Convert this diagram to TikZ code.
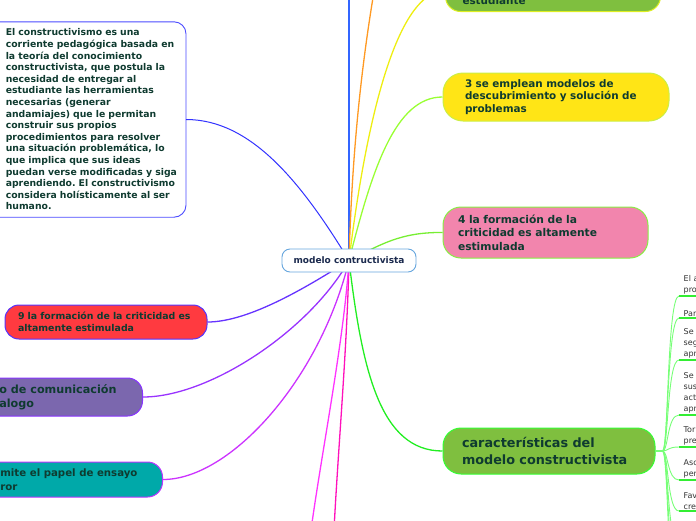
\documentclass[tikz,border=0pt]{standalone}
\usepackage{fontspec}
\setmainfont{DejaVu Sans}
\usepackage{tikz}
\usetikzlibrary{positioning, backgrounds}
\frenchspacing

\definecolor{bluetop}{HTML}{3366FF}
\definecolor{orng}{HTML}{FF9922}
\definecolor{ylw}{HTML}{EEEE11}
\definecolor{lime}{HTML}{99FF33}
\definecolor{grnA}{HTML}{77EE33}
\definecolor{grnB}{HTML}{22EE22}
\definecolor{blueB}{HTML}{3333FF}
\definecolor{violA}{HTML}{6633FF}
\definecolor{violB}{HTML}{9933FF}
\definecolor{violC}{HTML}{CC33FF}
\definecolor{mgnt}{HTML}{FF33FF}
\definecolor{pnk}{HTML}{FF11BB}
\definecolor{leafgrn}{HTML}{7FBF3F}
\definecolor{ntwobd}{HTML}{DDEE22}
\definecolor{nthreefill}{HTML}{FFE516}
\definecolor{nthreebd}{HTML}{CCEE44}
\definecolor{nfourfill}{HTML}{F285AD}
\definecolor{nfourbd}{HTML}{88EE44}
\definecolor{ncarbd}{HTML}{33FF33}
\definecolor{nninefill}{HTML}{FF3A40}
\definecolor{nninebd}{HTML}{5533FF}
\definecolor{npurfill}{HTML}{7B67AE}
\definecolor{npurbd}{HTML}{8833FF}
\definecolor{ntealfill}{HTML}{00A9A9}
\definecolor{ntealbd}{HTML}{BB33FF}
\definecolor{tbbd}{HTML}{4B4BFF}
\definecolor{rootbd}{HTML}{66A6DE}
\definecolor{roottxt}{HTML}{1B2A4E}
\definecolor{txtdark}{HTML}{0F3B30}
\definecolor{subtxt}{HTML}{333333}
\definecolor{treegrn}{HTML}{77FF77}
\definecolor{ulgrn}{HTML}{33EE33}

\begin{document}
\begin{tikzpicture}[x=1pt, y=-1pt,
  topic/.style={draw, line width=1pt, align=left, text=txtdark},
  branch/.style={line width=1.3pt},
  tree/.style={treegrn, line width=0.9pt},
  sub/.style={anchor=south west, align=left, inner xsep=4.5pt, inner ysep=1.5pt, text width=30pt, font=\fontsize{8}{11}\selectfont, text=subtxt},
  underl/.style={ulgrn, line width=1.6pt}]

\useasboundingbox (0,0) rectangle (696,520);

% central topic
\node[draw=rootbd, fill=white, line width=0.9pt, rounded corners=8pt, minimum width=134pt, minimum height=23pt, text=roottxt, font=\bfseries\fontsize{9}{11}\selectfont] (root) at (349,260.5) {modelo contructivista};

% right side topics
\node[topic, fill=leafgrn, draw=ntwobd, rounded corners=15pt, anchor=south west, text width=181pt, inner xsep=17pt, inner ysep=4.5pt, text height=30pt, text depth=2.5pt, font=\bfseries\fontsize{10.4}{12.5}\selectfont] (n2) at (445,12) {estudiante};
\node[topic, fill=nthreefill, draw=nthreebd, rounded corners=20pt, text width=182pt, inner xsep=22pt, minimum height=48pt, font=\bfseries\fontsize{10.4}{12.5}\selectfont] (n3) at (556,97) {3 se emplean modelos de\\descubrimiento y solución de\\problemas};
\node[topic, fill=nfourfill, draw=nfourbd, rounded corners=18pt, text width=175pt, inner xsep=15pt, minimum height=51pt, font=\bfseries\fontsize{10.7}{13.5}\selectfont] (n4) at (545.5,232.5) {4 la formación de la\\criticidad es altamente\\estimulada};
\node[topic, fill=leafgrn, draw=ncarbd, rounded corners=18pt, text width=174pt, inner xsep=19pt, minimum height=46pt, font=\bfseries\fontsize{12.8}{17}\selectfont] (ncar) at (549,451) {características del\\modelo constructivista};

% left side topics
\node[topic, fill=nninefill, draw=nninebd, rounded corners=14pt, text width=176pt, inner xsep=13pt, minimum height=34pt, font=\bfseries\fontsize{9.4}{12}\selectfont] (n9) at (106,322) {9 la formación de la criticidad es\\altamente estimulada};
\node[topic, fill=npurfill, draw=npurbd, rounded corners=15pt, anchor=east, inner xsep=26pt, minimum height=38pt, font=\bfseries\fontsize{11.2}{14}\selectfont] (npur) at (143,397) {o de comunicación\\alogo};
\node[topic, fill=ntealfill, draw=ntealbd, rounded corners=15pt, anchor=east, inner xsep=25pt, minimum height=35pt, font=\bfseries\fontsize{10.2}{14}\selectfont] (nteal) at (163,479.5) {mite el papel de ensayo\\ror};

% text box
\node[anchor=east, align=left, text width=172pt, inner xsep=8pt, minimum height=195pt, text=txtdark, font=\bfseries\fontsize{9.3}{11.6}\selectfont] (tb) at (186,119.5) {El constructivismo es una\\corriente pedagógica basada en\\la teoría del conocimiento\\constructivista, que postula la\\necesidad de entregar al\\estudiante las herramientas\\necesarias (generar\\andamiajes) que le permitan\\construir sus propios\\procedimientos para resolver\\una situación problemática, lo\\que implica que sus ideas\\puedan verse modificadas y siga\\aprendiendo. El constructivismo\\considera holísticamente al ser\\humano.};

% sub topics of caracteristicas
\node[sub] (s1) at (679,296) {El a\\pro};
\node[sub] (s2) at (679,318) {Par};
\node[sub] (s3) at (679,360) {Se\\seg\\apr};
\node[sub] (s4) at (679,415) {Se\\sus\\act\\apr};
\node[sub] (s5) at (679,447) {Tor\\pre};
\node[sub] (s6) at (679,480) {Asc\\per};
\node[sub] (s7) at (679,511) {Fav\\cre};

\coordinate (upA) at (349,-20);
\coordinate (upB) at (376,-20);
\coordinate (downA) at (311,530);
\coordinate (downB) at (334,530);
\coordinate (s8) at (679,545);
\coordinate (s9) at (679,575);
\coordinate (s10) at (679,605);

\begin{scope}[on background layer]
  \draw[tbbd, fill=white, line width=0.9pt, rounded corners=12pt] ([xshift=-40pt]tb.north west) rectangle (tb.south east);
  \draw[branch, bluetop] (root.center) -- (upA);
  \draw[branch, orng] (root.center) .. controls (352,150) and (362,60) .. (upB);
  \draw[branch, ylw] (root.center) .. controls (360,170) and (388,-9) .. (n2.west);
  \draw[branch, lime] (root.center) .. controls (372,170) and (395,97) .. (n3.west);
  \draw[branch, grnA] (root.center) .. controls (380,245) and (400,232) .. (n4.west);
  \draw[branch, grnB] (root.center) .. controls (362,370) and (380,451) .. (ncar.west);
  \draw[branch, pnk] (root.center) .. controls (347,350) and (338,450) .. (downB);
  \draw[branch, mgnt] (root.center) .. controls (344,340) and (322,450) .. (downA);
  \draw[branch, violC] (root.center) .. controls (320,380) and (230,479.5) .. (nteal.east);
  \draw[branch, violB] (root.center) .. controls (310,330) and (210,397) .. (npur.east);
  \draw[branch, violA] (root.center) .. controls (310,285) and (250,322) .. (n9.east);
  \draw[branch, blueB, line width=1pt] (root.center) .. controls (300,180) and (250,119.5) .. (tb.east);
  % tree to the sub topics
  \draw[tree, line width=1.4pt] (ncar.east) -- ++(7,0) coordinate (fork);
  \foreach \s in {s1,s2,s3,s4,s5,s6,s7}
    \draw[tree] (fork) .. controls +(6,0) and +(-12,0) .. (\s.south west);
  \foreach \s in {s8,s9,s10}
    \draw[tree] (fork) .. controls +(6,0) and +(-12,0) .. (\s);
\end{scope}

\foreach \s in {s1,s2,s3,s4,s5,s6,s7}
  \draw[underl] (\s.south west) -- (\s.south east);

\end{tikzpicture}
\end{document}
